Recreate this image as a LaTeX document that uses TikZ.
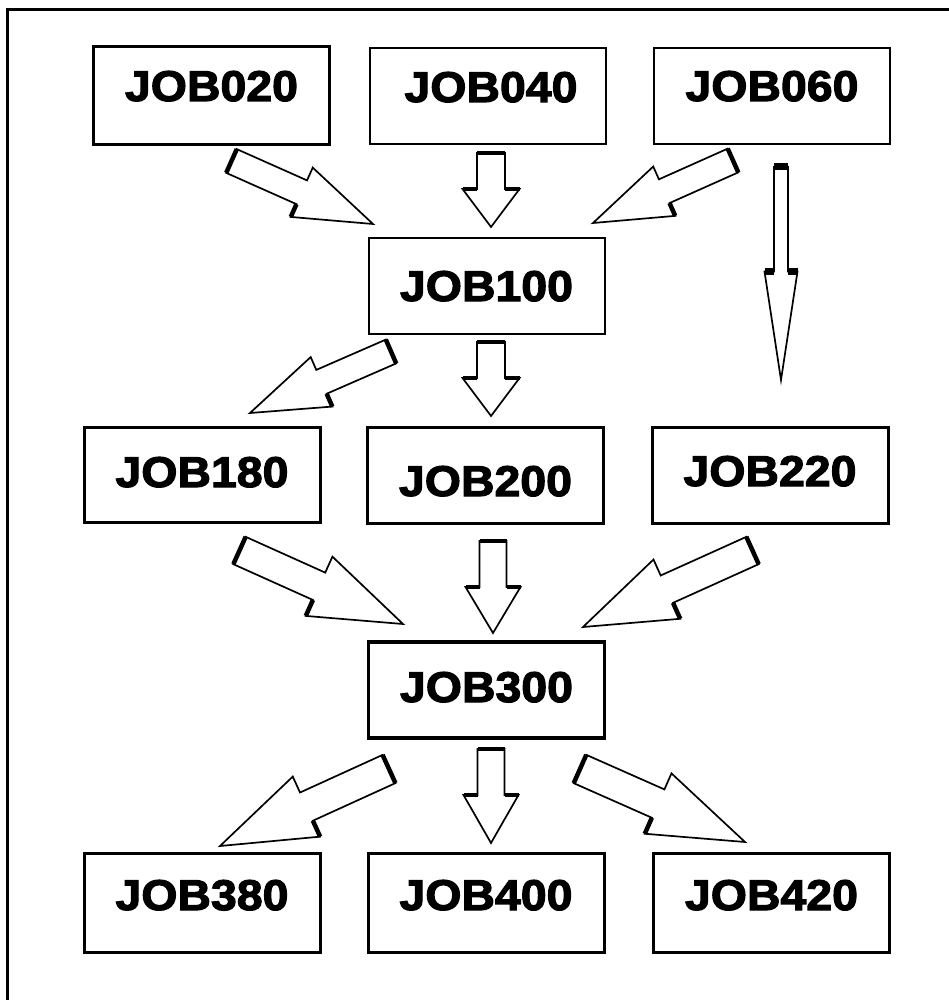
\documentclass[tikz,border=0pt]{standalone}
\usepackage{fontspec}
\usetikzlibrary{calc}
\newfontfamily\jobfont{Liberation Sans Bold}[FakeStretch=1.08,FakeBold=2.6]
\newcommand\blockarrow[6]{%
  \path ($(#2)!#5!(#1)$) coordinate (ba-B);
  \path ($(#1)!#3!90:(#2)$) coordinate (ba-T1)
        ($(#1)!#3!-90:(#2)$) coordinate (ba-T2)
        ($(ba-B)!#3!90:(#2)$) coordinate (ba-S1)
        ($(ba-B)!#3!-90:(#2)$) coordinate (ba-S2)
        ($(ba-B)!#4!90:(#2)$) coordinate (ba-H1)
        ($(ba-B)!#4!-90:(#2)$) coordinate (ba-H2);
  \draw[barrow] (ba-T1) -- (ba-S1) -- (ba-H1) -- (#2) -- (ba-H2) -- (ba-S2) -- (ba-T2) -- cycle;
  \draw[bshadow] (ba-T1) -- (ba-T2);
  \ifnum#6=2\else\draw[bshadow] (ba-S1) -- (ba-H1);\fi
  \ifnum#6=1\else\draw[bshadow] (ba-S2) -- (ba-H2);\fi
}
\begin{document}
\begin{tikzpicture}[x=1pt,y=-1pt,
  box/.style={draw, line width=3pt, minimum width=236pt, minimum height=96pt,
    inner sep=0pt, font=\jobfont\fontsize{43}{43}\selectfont,
    text height=30pt, text depth=#1},
  box/.default=0pt,
  thinbox/.style={line width=2pt},
  barrow/.style={draw, fill=white, line width=1.7pt, line join=miter},
  bshadow/.style={line width=4.5pt, line cap=butt},
  frame/.style={line width=3pt}]
\useasboundingbox (0,0) rectangle (949,1000);
\draw[frame] (7.5,1000) -- (7.5,10) -- (949,10);
% boxes
\node[box=20pt, minimum height=98pt] (job020) at (211.5,96) {JOB020};
\node[box=18pt, thinbox] (job040) at (488,96) {\hspace*{6pt}JOB040};
\node[box=20pt, thinbox] (job060) at (772,96) {JOB060};
\node[box=0pt, thinbox] (job100) at (486.5,286) {JOB100};
\node[box=5pt, minimum height=95pt] (job180) at (202,474.5) {JOB180};
\node[box, text height=42pt] (job200) at (485.5,475) {JOB200};
\node[box=8pt] (job220) at (770,475) {JOB220};
\node[box=6pt, line width=3.5pt] (job300) at (486.5,690) {JOB300};
\node[box=15pt, minimum height=99pt] (job380) at (202,902.5) {JOB380};
\node[box=15pt, minimum height=99pt] (job400) at (486,902.5) {JOB400};
\node[box=15pt, minimum height=99pt] (job420) at (771.5,902.5) {JOB420};
% arrow end points
\coordinate (a1t) at (231.5,161);   \coordinate (a1p) at (373,224);
\coordinate (a2t) at (491,153);     \coordinate (a2p) at (491,227);
\coordinate (a3t) at (733,160.5);   \coordinate (a3p) at (593,223);
\coordinate (a4t) at (781,167);     \coordinate (a4p) at (781,380);
\coordinate (a5t) at (391,351.5);   \coordinate (a5p) at (250,413);
\coordinate (a6t) at (491,342);     \coordinate (a6p) at (491,416);
\coordinate (a7t) at (239.5,550.5); \coordinate (a7p) at (403,624);
\coordinate (a8t) at (493,541);     \coordinate (a8p) at (493,633);
\coordinate (a9t) at (752.5,550.5); \coordinate (a9p) at (583,627);
\coordinate (a10t) at (389,769);    \coordinate (a10p) at (220,846);
\coordinate (a11t) at (491,749);    \coordinate (a11p) at (491,843);
\coordinate (a12t) at (580,769);    \coordinate (a12p) at (745,842);
% arrows
\blockarrow{a1t}{a1p}{13pt}{27pt}{78pt}{2}
\blockarrow{a2t}{a2p}{14pt}{28.5pt}{38pt}{3}
\blockarrow{a3t}{a3p}{13pt}{27pt}{78pt}{1}
\begin{scope}[bshadow/.style={line width=7pt, line cap=butt}]
\blockarrow{a4t}{a4p}{7pt}{16.5pt}{108.5pt}{3}
\end{scope}
\blockarrow{a5t}{a5p}{13pt}{27pt}{78pt}{1}
\blockarrow{a6t}{a6p}{14pt}{28.5pt}{38pt}{3}
\blockarrow{a7t}{a7p}{15pt}{32.5pt}{92pt}{2}
\blockarrow{a8t}{a8p}{13.5pt}{27.5pt}{46pt}{3}
\blockarrow{a9t}{a9p}{15pt}{32.5pt}{92pt}{1}
\blockarrow{a10t}{a10p}{15.5pt}{33pt}{95pt}{1}
\blockarrow{a11t}{a11p}{13.5pt}{27.5pt}{48pt}{3}
\blockarrow{a12t}{a12p}{15.5pt}{33pt}{95pt}{2}
\end{tikzpicture}
\end{document}
